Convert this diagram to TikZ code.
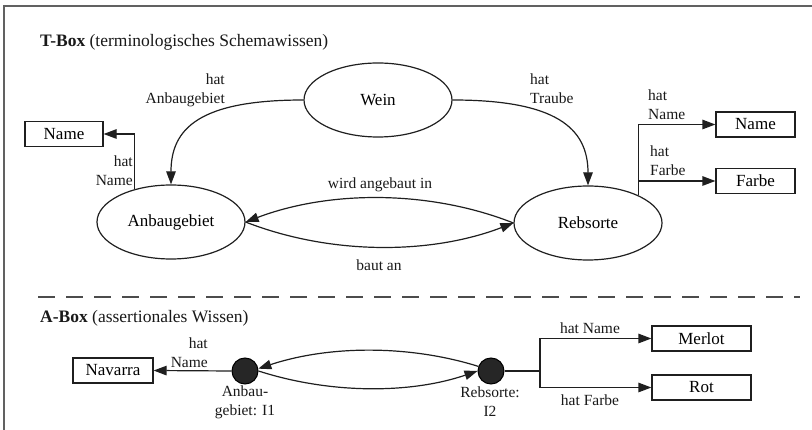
\documentclass[tikz,border=0pt]{standalone}
\usepackage{fontspec}
\setmainfont{Liberation Serif}
\usetikzlibrary{shapes.geometric,arrows.meta}
\begin{document}
\begin{tikzpicture}[x=1pt,y=-1pt,
  ink/.style={draw=black!88, line width=1.2pt},
  concept/.style={ellipse, ink, minimum width=148pt, minimum height=74pt, inner sep=0pt,
    font=\fontsize{17}{19}\selectfont},
  valbox/.style={rectangle, ink, minimum height=25pt, inner sep=0pt,
    font=\fontsize{17}{19}\selectfont},
  individual/.style={circle, draw=black, fill=black!85, line width=1pt, minimum size=26pt, inner sep=0pt},
  rel/.style={ink, -{Triangle[length=13pt,width=9.5pt]}},
  lbl/.style={font=\fontsize{15.5}{19}\selectfont, inner sep=0pt, text=black!90},
  heading/.style={font=\fontsize{17.5}{20}\selectfont, anchor=west, inner sep=0pt, text=black!90},
  frame/.style={draw=black!62, line width=2pt},
  divider/.style={draw=black!70, line width=1.3pt, dash pattern=on 17pt off 11pt},
]
\useasboundingbox (0,0) rectangle (812,430);

% outer frame (top and left edges)
\draw[frame] (3,6) -- (812,6);
\draw[frame] (4,5) -- (4,430);

% ---------------- T-Box ----------------
\node[heading] (ttitle) at (40,42) {\textbf{T-Box} (terminologisches Schemawissen)};

\node[concept] (wein) at (378,100) {Wein};
\node[concept] (anb)  at (171,222) {Anbaugebiet};
\node[concept] (reb)  at (588,223) {Rebsorte};

\node[valbox, minimum width=78pt] (nameL) at (64,134) {Name};
\node[valbox, minimum width=79pt] (nameR) at (755.5,124.5) {Name};
\node[valbox, minimum width=79pt] (farbe) at (755.5,181) {Farbe};

\draw[rel] (wein.west) .. controls (200,100) and (171,128) .. (anb.north);
\draw[rel] (wein.east) .. controls (556,100) and (588,128) .. (reb.north);
\node[lbl, align=right, anchor=east] (lhatanb) at (225,90) {hat\\Anbaugebiet};
\node[lbl, align=left, anchor=west] (lhattr) at (530,89) {hat\\Traube};

\draw[rel] (anb.138) |- (nameL.east);
\node[lbl, align=right, anchor=east] (lhatnameL) at (133,171) {hat\\Name};

\draw[rel] (reb.29) |- (nameR.west);
\draw[rel] (reb.29) |- (farbe.west);
\node[lbl, align=left, anchor=west] (lhatnameR) at (648,105) {hat\\Name};
\node[lbl, align=left, anchor=west] (lhatfarbe) at (650,161) {hat\\Farbe};

\draw[rel] (reb.west) .. controls (430,190) and (330,190) .. (anb.east);
\draw[rel] (anb.east) .. controls (330,255) and (430,255) .. (reb.west);
\node[lbl] (lwird) at (380,185) {wird angebaut in};
\node[lbl] (lbaut) at (379,265) {baut an};

% separator between the two boxes
\draw[divider] (38,297) -- (800,297);

% ---------------- A-Box ----------------
\node[heading] (atitle) at (40,318) {\textbf{A-Box} (assertionales Wissen)};

\node[individual] (i1) at (245,371) {};
\node[individual] (i2) at (491,371) {};
\node[valbox, minimum width=80pt] (navarra) at (113,370.5) {Navarra};
\node[valbox, minimum width=99pt] (merlot) at (701.5,338.5) {Merlot};
\node[valbox, minimum width=99pt] (rot) at (701.5,387.5) {Rot};

\node[lbl, align=center] (li1) at (245,402.5) {Anbau-\\gebiet: I1};
\node[lbl, align=center] (li2) at (490,401.5) {Rebsorte:\\I2};

\draw[rel] (i1.west) -- (navarra.east);
\node[lbl, align=right, anchor=east] (lhatnameA) at (208,352.5) {hat\\Name};

\draw[rel] (i2.160) .. controls (410,345) and (330,345) .. (i1.10);
\draw[rel] (i1.east) .. controls (330,394) and (410,394) .. (i2.west);

\coordinate (split) at (540,371);
\draw[ink] (i2.east) -- (split);
\draw[rel] (split) |- (merlot.west);
\draw[rel] (split) |- (rot.west);
\node[lbl] (lhatnameM) at (590,328) {hat Name};
\node[lbl] (lhatfarbeR) at (590,400) {hat Farbe};
\end{tikzpicture}
\end{document}
